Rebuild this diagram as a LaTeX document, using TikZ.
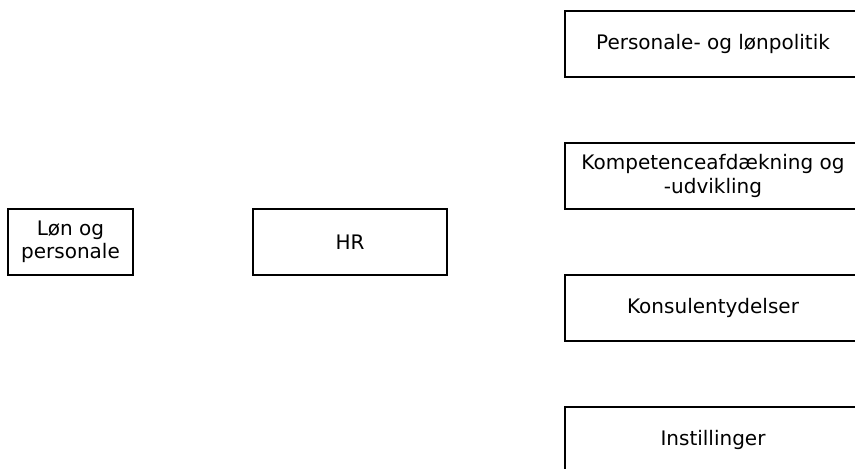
\documentclass[tikz,border=0pt]{standalone}
\usepackage{fontspec}
\setmainfont{DejaVu Sans}
\begin{document}
\begin{tikzpicture}[x=0.75pt,y=-0.75pt,
  unit/.style={draw=black,line width=1.5pt,fill=white,rectangle,
    minimum height=49.5pt,inner sep=1pt,align=center,
    font=\fontsize{15}{17.5}\selectfont},
  leftunit/.style={unit,minimum width=93.75pt},
  hrunit/.style={unit,minimum width=145.5pt},
  rightunit/.style={unit,minimum width=222pt}]
\useasboundingbox (0,0) rectangle (855,468);
\clip (0,0) rectangle (855,468);
% main units
\node[leftunit] (lon) at (70.5,242) {Løn og\\personale};
\node[hrunit] (hr) at (350,242) {HR};
% HR subunits
\node[rightunit] (politik) at (713,44) {Personale- og lønpolitik};
\node[rightunit] (kompetence) at (713,176) {Kompetenceafdækning og\\-udvikling};
\node[rightunit] (konsulent) at (713,308) {Konsulentydelser};
\node[rightunit] (instil) at (713,440) {Instillinger};
\end{tikzpicture}
\end{document}
